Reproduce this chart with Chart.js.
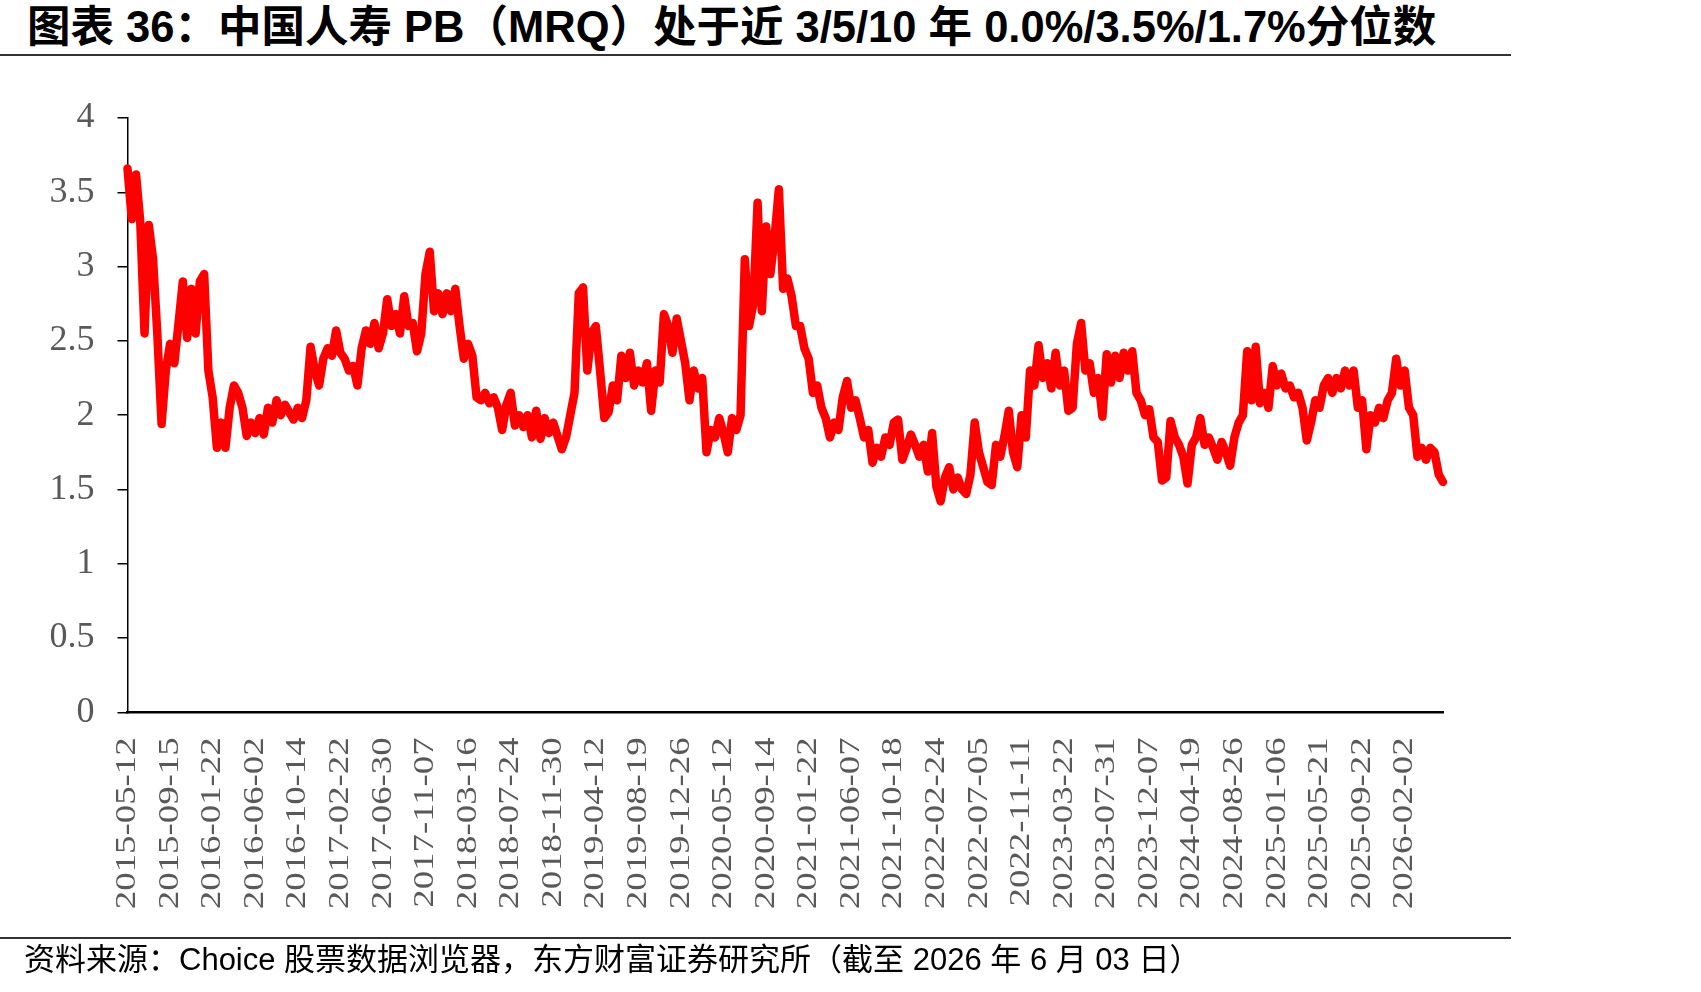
<!DOCTYPE html>
<html>
<head>
<meta charset="utf-8">
<script src="https://cdn.jsdelivr.net/npm/chart.js@4.4.1/dist/chart.umd.min.js"></script>
<style>
  html, body { margin: 0; padding: 0; background: #fff; }
  body { width: 1701px; height: 992px; position: relative; overflow: hidden; }
  #c { position: absolute; left: 0; top: 0; }
  .title { position: absolute; left: 27px; top: 3px; font: bold 43.5px "Liberation Sans", "Noto Sans CJK SC", sans-serif; color: #000; white-space: nowrap; line-height: 48px; }
  .rule { position: absolute; left: 0; width: 1511px; height: 2px; background: #333; }
  .foot { position: absolute; left: 24px; top: 941px; font: 31px "Liberation Sans", "Noto Sans CJK SC", sans-serif; color: #000; white-space: nowrap; line-height: 38px; }
</style>
</head>
<body>
<div class="title">图表 36：中国人寿 PB（MRQ）处于近 3/5/10 年 0.0%/3.5%/1.7%分位数</div>
<div class="rule" style="top:54px"></div>
<canvas id="c" width="1701" height="992"></canvas>
<div class="rule" style="top:937px"></div>
<div class="foot">资料来源：Choice 股票数据浏览器，东方财富证券研究所（截至 2026 年 6 月 03 日）</div>
<script>
// X-axis tick labels (one every TICK_STEP samples)
const tickLabels = [
  "2015-05-12","2015-09-15","2016-01-22","2016-06-02","2016-10-14","2017-02-22",
  "2017-06-30","2017-11-07","2018-03-16","2018-07-24","2018-11-30","2019-04-12",
  "2019-08-19","2019-12-26","2020-05-12","2020-09-14","2021-01-22","2021-06-07",
  "2021-10-18","2022-02-24","2022-07-05","2022-11-11","2023-03-22","2023-07-31",
  "2023-12-07","2024-04-19","2024-08-26","2025-01-06","2025-05-21","2025-09-22",
  "2026-02-02"
];
const TICK_STEP = 10;

// Y-axis ticks
const yTicks = [0, 0.5, 1, 1.5, 2, 2.5, 3, 3.5, 4];

// PB (MRQ) series, sampled evenly along the time axis
const pb = [
  3.66, 3.32, 3.62, 3.30, 2.55, 3.28, 3.05, 2.55, 1.94, 2.30,
  2.48, 2.35, 2.62, 2.90, 2.52, 2.85, 2.55, 2.90, 2.95, 2.30,
  2.12, 1.78, 1.95, 1.78, 2.05, 2.20, 2.15, 2.05, 1.86, 1.95,
  1.88, 1.98, 1.87, 2.05, 1.95, 2.10, 2.00, 2.07, 2.02, 1.97,
  2.05, 1.98, 2.10, 2.46, 2.30, 2.20, 2.38, 2.45, 2.40, 2.57,
  2.42, 2.38, 2.30, 2.33, 2.20, 2.45, 2.57, 2.48, 2.62, 2.45,
  2.55, 2.78, 2.60, 2.68, 2.55, 2.80, 2.60, 2.62, 2.43, 2.55,
  2.95, 3.10, 2.70, 2.82, 2.68, 2.82, 2.70, 2.85, 2.60, 2.38,
  2.48, 2.40, 2.12, 2.10, 2.15, 2.08, 2.12, 2.05, 1.90, 2.07,
  2.15, 1.93, 2.00, 1.92, 2.00, 1.85, 2.03, 1.84, 1.98, 1.88,
  1.95, 1.86, 1.77, 1.85, 2.00, 2.15, 2.82, 2.86, 2.30, 2.55,
  2.60, 2.30, 1.98, 2.02, 2.20, 2.10, 2.40, 2.25, 2.42, 2.20,
  2.30, 2.22, 2.35, 2.03, 2.30, 2.22, 2.68, 2.60, 2.42, 2.65,
  2.50, 2.35, 2.10, 2.30, 2.18, 2.25, 1.75, 1.90, 1.85, 1.98,
  1.88, 1.75, 1.98, 1.90, 2.00, 3.05, 2.60, 2.75, 3.43, 2.70,
  3.27, 2.95, 3.20, 3.52, 2.85, 2.92, 2.80, 2.60, 2.60, 2.45,
  2.38, 2.15, 2.20, 2.05, 1.98, 1.85, 1.95, 1.90, 2.12, 2.23,
  2.05, 2.10, 1.98, 1.85, 1.90, 1.68, 1.78, 1.72, 1.85, 1.80,
  1.95, 1.97, 1.70, 1.78, 1.87, 1.80, 1.72, 1.80, 1.62, 1.88,
  1.52, 1.42, 1.58, 1.65, 1.50, 1.58, 1.50, 1.47, 1.60, 1.95,
  1.75, 1.65, 1.55, 1.53, 1.80, 1.72, 1.86, 2.03, 1.75, 1.65,
  2.00, 1.85, 2.30, 2.20, 2.47, 2.25, 2.35, 2.18, 2.42, 2.20,
  2.30, 2.03, 2.05, 2.48, 2.62, 2.30, 2.35, 2.15, 2.25, 1.99,
  2.41, 2.22, 2.40, 2.25, 2.42, 2.30, 2.43, 2.15, 2.10, 2.00,
  2.04, 1.85, 1.82, 1.56, 1.58, 1.96, 1.85, 1.80, 1.72, 1.54,
  1.80, 1.85, 1.98, 1.80, 1.85, 1.78, 1.70, 1.82, 1.75, 1.66,
  1.85, 1.95, 2.00, 2.43, 2.10, 2.46, 2.08, 2.15, 2.05, 2.33,
  2.20, 2.28, 2.18, 2.20, 2.12, 2.15, 2.05, 1.83, 1.95, 2.10,
  2.05, 2.20, 2.25, 2.15, 2.25, 2.18, 2.30, 2.20, 2.30, 2.05,
  2.10, 1.77, 2.00, 1.95, 2.05, 1.98, 2.10, 2.15, 2.38, 2.20,
  2.30, 2.05, 2.00, 1.72, 1.78, 1.70, 1.78, 1.75, 1.60, 1.55
];

const points = pb.map((v, i) => ({ x: i, y: v }));

const xLabelPlugin = {
  id: 'xLabels',
  afterDraw(chart) {
    const { ctx, chartArea } = chart;
    const xs = chart.scales.x;
    ctx.save();
    ctx.font = '29px "Liberation Serif", "Times New Roman", serif';
    ctx.fillStyle = '#595959';
    ctx.textAlign = 'right';
    ctx.textBaseline = 'middle';
    tickLabels.forEach((t, k) => {
      const px = xs.getPixelForValue(k * TICK_STEP);
      ctx.save();
      ctx.translate(px, chartArea.bottom + 25);
      ctx.rotate(-Math.PI / 2);
      ctx.scale(1.27, 1);
      ctx.fillText(t, 0, 0);
      ctx.restore();
    });
    ctx.restore();
  }
};

new Chart(document.getElementById('c'), {
  type: 'line',
  data: {
    datasets: [{
      label: 'PB(MRQ)',
      data: points,
      borderColor: '#FF0000',
      backgroundColor: '#FF0000',
      borderWidth: 8.5,
      pointRadius: 0,
      tension: 0,
      borderJoinStyle: 'round',
      borderCapStyle: 'round',
      clip: false
    }]
  },
  options: {
    responsive: false,
    animation: false,
    devicePixelRatio: 1,
    layout: { padding: { left: 0, right: 258, top: 118, bottom: 0 } },
    plugins: { legend: { display: false }, tooltip: { enabled: false }, title: { display: false } },
    scales: {
      x: {
        type: 'linear',
        min: 0,
        max: pb.length - 1,
        grid: { display: false },
        border: { display: true, color: '#000', width: 2.5 },
        ticks: { display: false, stepSize: TICK_STEP, includeBounds: false },
        afterFit(s) { s.height = 992 - 712.3; }
      },
      y: {
        min: 0,
        max: 4,
        afterBuildTicks(s) { s.ticks = yTicks.map(v => ({ value: v })); },
        grid: { drawOnChartArea: false, drawTicks: true, tickLength: 10, color: '#000', lineWidth: 1.5 },
        border: { display: true, color: '#000', width: 1.5 },
        ticks: {
          color: '#595959',
          padding: 23,
          font: { family: '"Liberation Serif", "Times New Roman", serif', size: 36 },
          callback: (v) => String(v)
        },
        afterFit(s) { s.width = 127.5; }
      }
    }
  },
  plugins: [xLabelPlugin]
});
</script>
</body>
</html>
